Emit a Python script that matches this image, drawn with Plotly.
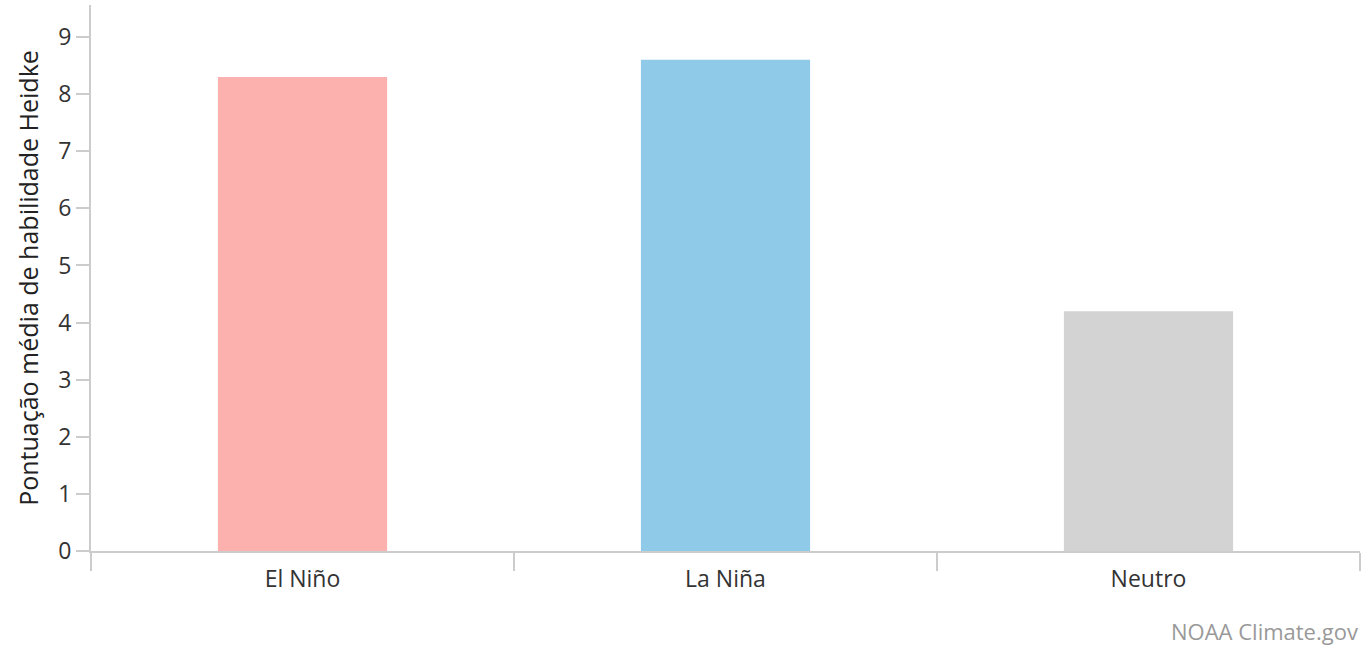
import plotly.graph_objects as go

categories = ["El Niño", "La Niña", "Neutro"]
scores = [8.3, 8.6, 4.2]
bar_colors = ["#fdb1af", "#8fcbe8", "#d3d3d3"]
ytick_vals = [0, 1, 2, 3, 4, 5, 6, 7, 8, 9]

fig = go.Figure()
fig.add_trace(go.Bar(
	x=categories,
	y=scores,
	marker=dict(color=bar_colors, line=dict(width=0)),
	hoverinfo="x+y",
))

fig.update_layout(
	width=1362,
	height=645,
	paper_bgcolor="white",
	plot_bgcolor="white",
	margin=dict(l=91, r=2, t=5, b=94),
	bargap=0.6,
	showlegend=False,
	font=dict(family="Open Sans", color="#333333"),
	xaxis=dict(
		showline=True,
		linecolor="#cccccc",
		linewidth=2,
		ticks="outside",
		tickson="boundaries",
		ticklen=18,
		tickcolor="#cccccc",
		tickwidth=2,
		ticklabelstandoff=6,
		tickfont=dict(size=23, color="#333333"),
		showgrid=False,
	),
	yaxis=dict(
		range=[0, 9.56],
		tickvals=ytick_vals,
		showline=True,
		linecolor="#cccccc",
		linewidth=2,
		ticks="outside",
		ticklen=13,
		tickcolor="#cccccc",
		tickwidth=2,
		tickfont=dict(size=23, color="#333333"),
		showgrid=False,
		zeroline=False,
		title=dict(text="Pontuação média de habilidade Heidke", font=dict(size=25, color="#222222"), standoff=12),
	),
)

fig.add_annotation(
	text="NOAA Climate.gov",
	xref="paper", yref="paper",
	x=1, y=-0.146,
	xanchor="right", yanchor="middle",
	showarrow=False,
	font=dict(size=22, color="#999999"),
)

fig.write_html("out.html", config={"displayModeBar": False}, post_script="document.body.style.margin='0';")
